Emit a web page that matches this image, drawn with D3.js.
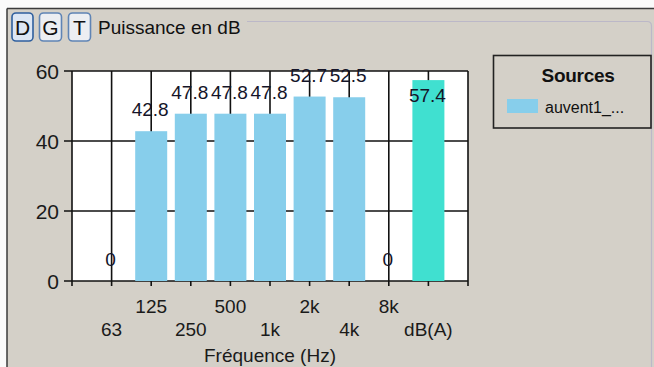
<!DOCTYPE html>
<html><head><meta charset="utf-8">
<script src="https://cdn.jsdelivr.net/npm/d3@7"></script>
<style>
body{margin:0;padding:0;background:#fff;}
svg{display:block;font-family:"Liberation Sans",Arial,sans-serif;}
</style></head>
<body>
<svg id="c" width="654" height="367"></svg>
<script>
const categories = ["63","125","250","500","1k","2k","4k","8k","dB(A)"];
const values = [0, 42.8, 47.8, 47.8, 47.8, 52.7, 52.5, 0, 57.4];
const yTicks = [0, 20, 40, 60];
const seriesName = "auvent1_...";
const chartTitle = "Puissance en dB";
const xTitle = "Fréquence (Hz)";
const legendTitle = "Sources";
const buttons = ["D","G","T"];

const svg = d3.select("#c");
const W = 654, H = 367;
const BLUE = "#87CEEB", TURQ = "#40E0D0", PANEL = "#d4d0c8";

// window frame
svg.append("rect").attr("width", W).attr("height", H).attr("fill", "#fafafa");
svg.append("rect").attr("x", 7).attr("y", 8.5).attr("width", W - 7).attr("height", H - 8).attr("fill", PANEL);
svg.append("line").attr("x1", 7).attr("x2", W).attr("y1", 8.5).attr("y2", 8.5).attr("stroke", "#3a3a3a").attr("stroke-width", 1.5);
svg.append("line").attr("x1", 7).attr("x2", 7).attr("y1", 8.5).attr("y2", H).attr("stroke", "#3a3a3a").attr("stroke-width", 1.5);
// group box line
svg.append("path").attr("d", `M247,21.5 H647 Q651.5,21.5 651.5,26 V${H}`)
  .attr("fill", "none").attr("stroke", "#bcb8c8").attr("stroke-width", 1.2);

// buttons
const bx = [12, 39.5, 68.5], bw = [21, 22, 22];
buttons.forEach((b, i) => {
  const g = svg.append("g");
  g.append("rect").attr("x", bx[i]).attr("y", 13).attr("width", bw[i]).attr("height", 28).attr("rx", 4)
    .attr("fill", i === 0 ? "#dce6f4" : "#eceef2").attr("stroke", i === 0 ? "#2f5f9e" : "#5f84b5").attr("stroke-width", 1.6);
  g.append("text").attr("x", bx[i] + bw[i] / 2).attr("y", 35).attr("text-anchor", "middle")
    .attr("font-size", 21).attr("fill", "#111").text(b);
});
svg.append("text").attr("x", 98).attr("y", 34).attr("font-size", 19).attr("fill", "#111").text(chartTitle);

// scales
const x = d3.scalePoint().domain(categories).range([72, 468]).padding(1);
const y = d3.scaleLinear().domain([0, 60]).range([281, 71]);
const barW = 32;

// plot area
svg.append("rect").attr("x", 72).attr("y", y(60)).attr("width", 396).attr("height", y(0) - y(60)).attr("fill", "#fff");

// grid
const grid = svg.append("g").attr("stroke", "#111").attr("stroke-width", 1.6);
categories.forEach(c => grid.append("line").attr("x1", x(c)).attr("x2", x(c)).attr("y1", y(60)).attr("y2", y(0) + 5));
yTicks.forEach(t => grid.append("line").attr("x1", 64).attr("x2", 468).attr("y1", y(t)).attr("y2", y(t)));
[72, 468].forEach(xx => grid.append("line").attr("x1", xx).attr("x2", xx).attr("y1", y(60)).attr("y2", y(0) + 5));

// bars
svg.append("g").selectAll("rect").data(values).join("rect")
  .attr("x", (d, i) => x(categories[i]) - barW / 2)
  .attr("y", d => y(d))
  .attr("width", barW)
  .attr("height", d => y(0) - y(d))
  .attr("fill", (d, i) => categories[i] === "dB(A)" ? TURQ : BLUE);

// value labels
const labelY = v => {
  const top = y(v), above = top - 15;
  return (above - 14 < y(60) - 8) ? top + 22 : above;
};
svg.append("g").selectAll("text").data(values).join("text")
  .attr("x", (d, i) => x(categories[i]) - 1)
  .attr("y", d => labelY(d))
  .attr("text-anchor", "middle").attr("font-size", 19).attr("fill", "#141428")
  .text(d => d === 0 ? "0" : d.toFixed(1));

// y tick labels
svg.append("g").selectAll("text").data(yTicks).join("text")
  .attr("x", 59).attr("y", d => y(d) + 7.5).attr("text-anchor", "end")
  .attr("font-size", 21).attr("fill", "#1a1a1a").text(d => d);

// x tick labels (staggered)
svg.append("g").selectAll("text").data(categories).join("text")
  .attr("x", d => x(d)).attr("y", (d, i) => i % 2 === 1 ? 313 : 336)
  .attr("text-anchor", "middle").attr("font-size", 19).attr("fill", "#1a1a1a").text(d => d);

svg.append("text").attr("x", 270).attr("y", 362).attr("text-anchor", "middle")
  .attr("font-size", 19).attr("fill", "#1a1a1a").text(xTitle);

// legend
svg.append("rect").attr("x", 493.5).attr("y", 55.5).attr("width", 157.5).attr("height", 72.5)
  .attr("fill", "none").attr("stroke", "#222").attr("stroke-width", 1.6);
svg.append("text").attr("x", 578).attr("y", 82).attr("text-anchor", "middle").attr("font-size", 19)
  .attr("font-weight", "bold").attr("letter-spacing", -0.3).attr("fill", "#111").text(legendTitle);
svg.append("rect").attr("x", 507).attr("y", 99).attr("width", 31).attr("height", 14).attr("fill", BLUE);
svg.append("text").attr("x", 545).attr("y", 113).attr("font-size", 16).attr("fill", "#111").text(seriesName);
</script>
</body></html>
